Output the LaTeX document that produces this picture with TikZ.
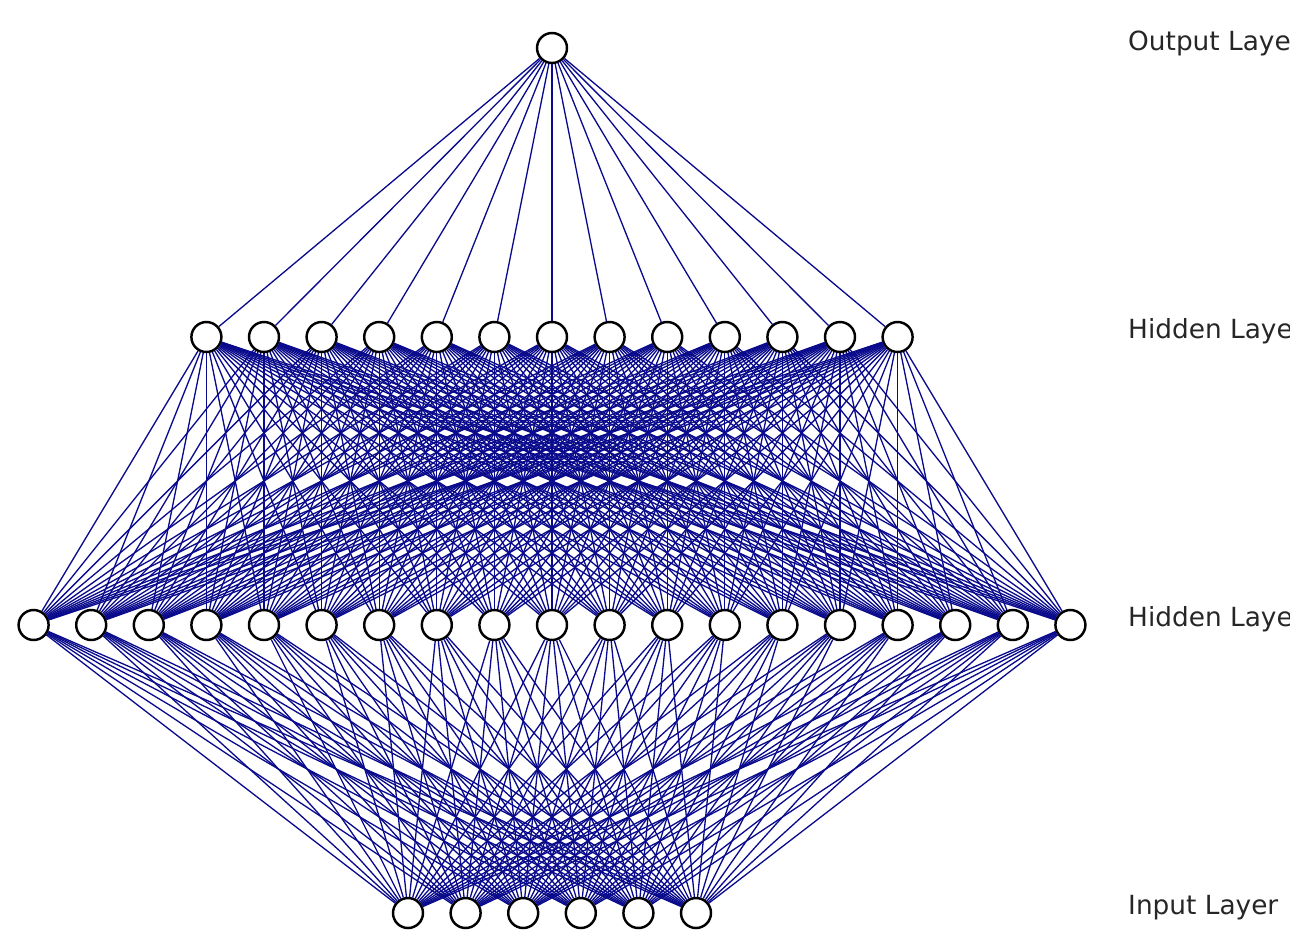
\documentclass[tikz,border=0pt]{standalone}
\usepackage{fontspec}
\setmainfont{DejaVu Sans}
\usepackage{tikz}
\usetikzlibrary{positioning,calc}
\definecolor{edgeblue}{RGB}{10,10,140}

\begin{document}
\begin{tikzpicture}[
  x=0.02cm, y=-0.02cm,
  neuron/.style={circle, draw=black, fill=white, line width=1.4pt,
                 minimum size=0.6cm, inner sep=0pt},
  conn/.style={edgeblue, line width=0.75pt},
  layerlabel/.style={anchor=base west, font=\fontsize{15}{18}\selectfont, text=black!85}
]
\useasboundingbox (0,0) rectangle (1290,937);

% neurons, spacing 57.6 around x=552
\foreach \i in {1,...,6}
  \node[neuron] (in\i) at ({552+(\i-3.5)*57.6},913) {};
\foreach \i in {1,...,19}
  \node[neuron] (ha\i) at ({552+(\i-10)*57.6},625) {};
\foreach \i in {1,...,13}
  \node[neuron] (hb\i) at ({552+(\i-7)*57.6},337) {};
\node[neuron] (out) at (552,48) {};

% connections
\foreach \i in {1,...,6}
  \foreach \j in {1,...,19}
    \draw[conn] (in\i) -- (ha\j);
\foreach \i in {1,...,19}
  \foreach \j in {1,...,13}
    \draw[conn] (ha\i) -- (hb\j);
\foreach \j in {1,...,13}
  \draw[conn] (hb\j) -- (out);

% layer names
\node[layerlabel] (lout) at (1122,50) {Output Layer};
\node[layerlabel] (lhb) at (1122,338) {Hidden Layer};
\node[layerlabel] (lha) at (1122,626) {Hidden Layer};
\node[layerlabel] (lin) at (1122,914) {Input Layer};
\end{tikzpicture}
\end{document}
